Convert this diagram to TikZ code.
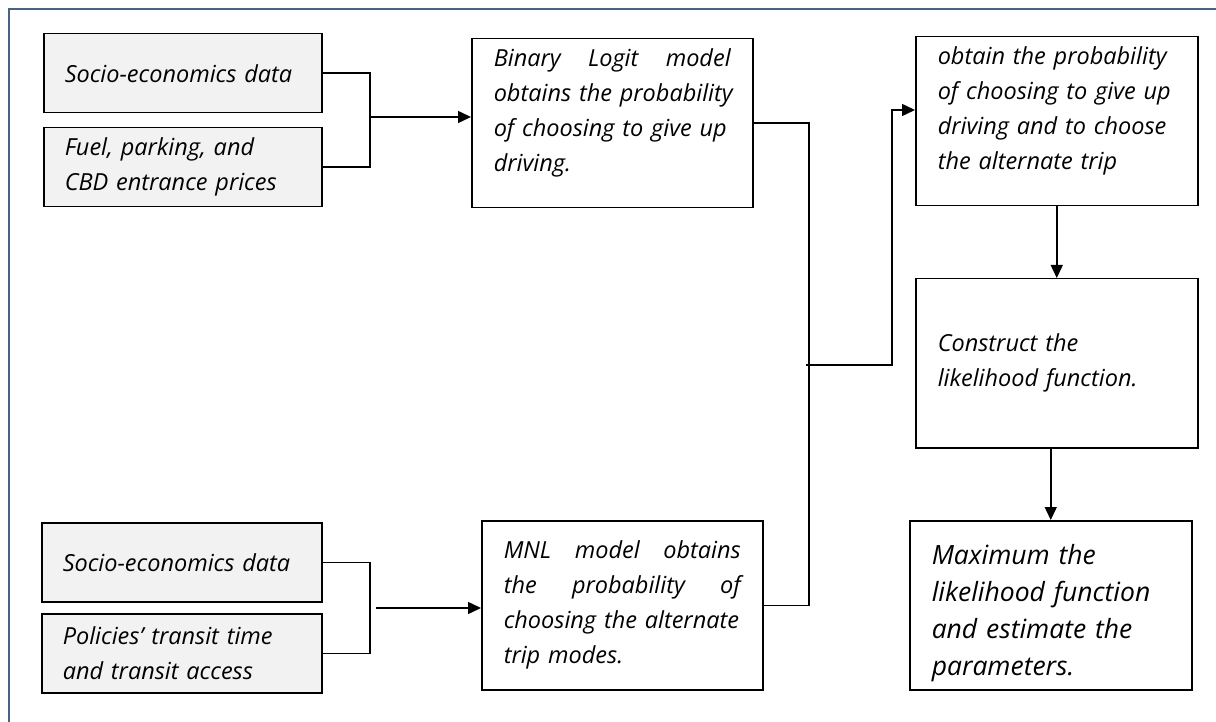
\documentclass[tikz,border=0pt]{standalone}
\usepackage{fontspec}
\setmainfont{Open Sans}
\usepackage{xcolor}
\usepackage{tikz}
\usetikzlibrary{arrows.meta, positioning}

\definecolor{framecol}{HTML}{4A6283}
\definecolor{inputfill}{HTML}{F2F2F2}

\tikzset{
  stagebox/.style={draw, line width=1.5pt, anchor=north west, align=left,
    inner xsep=22pt, inner ysep=4pt, text width=238pt, minimum height=169pt,
    font=\fontsize{23.5}{35}\selectfont\itshape},
  inputbox/.style={stagebox, fill=inputfill, text width=236pt, minimum height=79pt,
    inner xsep=21pt},
  link/.style={line width=1.5pt},
  flow/.style={link, -{Triangle[length=13pt,width=12pt]}}
}

\begin{document}
\begin{tikzpicture}[x=1pt, y=-1pt]
\useasboundingbox (0,0) rectangle (1216,722);
\draw[framecol, line width=2pt] (9,722) -- (9,9) -- (1216,9);

% inputs
\node[inputbox] (socioA) at (43,33) {Socio-economics data};
\node[inputbox] (fuel) at (43,127) {Fuel, parking, and\\ CBD entrance prices};
\node[inputbox, text width=238pt] (socioB) at (41,522) {Socio-economics data};
\node[inputbox, text width=238pt] (policy) at (41,613) {Policies’ transit time\\ and transit access};

% models
\node[stagebox, text width=237pt] (binary) at (471,38) {Binary\hfill Logit\hfill model\\ \mbox{obtains the probability}\\ of choosing to give up\\ driving.\par\kern20pt};
\node[stagebox, text width=237pt] (mnl) at (481,520) {MNL\hfill model\hfill obtains\\ the\hfill probability\hfill of\\ choosing the alternate\\ trip modes.};

% right column
\node[stagebox] (combined) at (915,36) {\mbox{obtain the probability}\\ of choosing to give up\\ driving and to choose\\ the alternate trip\par\kern20pt};
\node[stagebox] (construct) at (915,278) {Construct the\\ likelihood function.};
\node[stagebox, font=\fontsize{26.5}{37}\selectfont\itshape] (maximum) at (909,520) {Maximum the\\ likelihood function\\ and estimate the\\ parameters.\par\kern-16pt};

% junctions
\coordinate (jA) at (370,117);
\coordinate (jB) at (370,608);
\coordinate (jBs) at (376,608);
\coordinate (jC) at (809,365);
\coordinate (bend) at (892,110);

\draw[link] (socioA.east) -| (jA) |- (fuel.east);
\draw[flow] (jA) -- (binary.west |- jA);
\draw[link] (socioB.east) -| (jB) |- (policy.east);
\draw[flow] (jBs) -- (mnl.west |- jBs);

\draw[link] (binary.east) -| (jC);
\draw[link] (mnl.east) -| (jC);
\draw[flow] ([xshift=-3pt]jC) -| (bend) -- (combined.west |- bend);

\draw[flow] (combined.south) -- (construct.north);
\draw[flow] (maximum.north |- construct.south) -- (maximum.north);
\end{tikzpicture}
\end{document}
